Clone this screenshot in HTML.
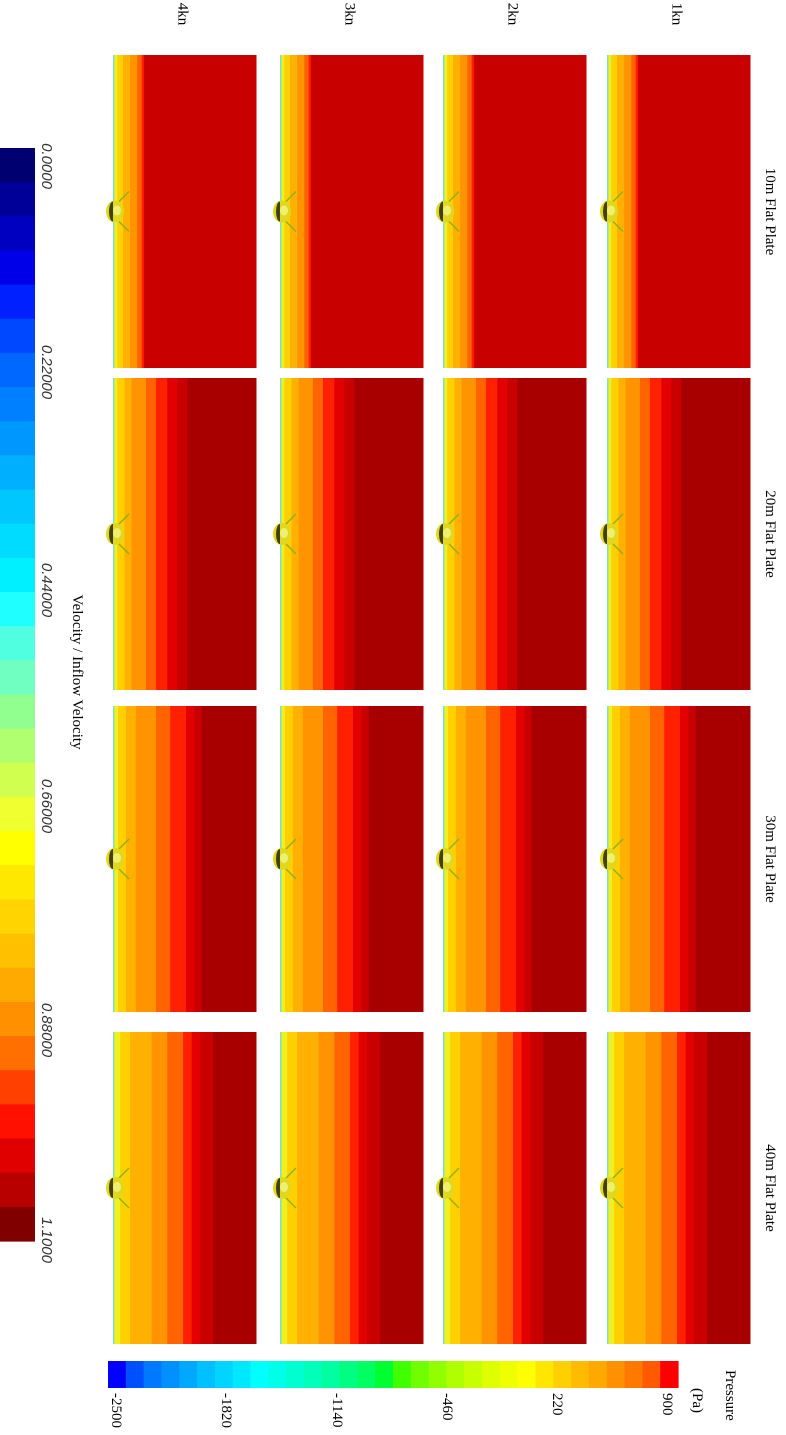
<!DOCTYPE html>
<html><head><meta charset="utf-8">
<style>
html,body{margin:0;padding:0;background:#fff;}
svg{display:block;font-family:"Liberation Serif",serif;}
</style></head>
<body>
<svg id="fig" width="786" height="1435" viewBox="0 0 786 1435" xmlns="http://www.w3.org/2000/svg">
<g id="panels"></g>
<g id="vbar"></g>
<g id="pbar"></g>
<g id="labels"></g>
</svg>
<script>
const NS="http://www.w3.org/2000/svg";
// data arrays
const speeds=["1kn","2kn","3kn","4kn"];
const plates=["10m Flat Plate","20m Flat Plate","30m Flat Plate","40m Flat Plate"];
const bandColors=["#f0f020","#ffd000","#ffb000","#ff9400","#ff6400","#ff2000","#e20000","#c80000","#a80000"];
const bands10=[0.03,0.07,0.12,0.17,0.2,0.215,0.22,1.0,1.0];
const bands20=[0.03,0.08,0.13,0.23,0.30,0.38,0.45,0.52,1.0];
const bands30=[0.035,0.09,0.16,0.30,0.40,0.51,0.57,0.62,1.0];
const bands40=[0.05,0.12,0.27,0.38,0.49,0.55,0.61,0.70,1.0];
const velTicks=["0.0000","0.22000","0.44000","0.66000","0.88000","1.1000"];
const presTicks=["-2500","-1820","-1140","-460","220","900"];
const velColors=["#000070","#000098","#0000c0","#0000e8","#0020ff","#0048ff","#0068ff","#0080ff","#0098ff","#00b0ff","#00c8ff","#00dcff","#00f0ff","#20ffff","#50ffe0","#70ffc0","#90ff90","#b0ff70","#d0ff50","#f0ff30","#ffff00","#ffe800","#ffd400","#ffc000","#ffaa00","#ff9000","#ff7000","#ff4000","#ff1000","#e00000","#b80000","#800000"];
const presColors=["#0000ff","#0050ff","#0078ff","#0090ff","#00a8ff","#00c0ff","#00d4ff","#00e8ff","#00ffff","#00ffe8","#00ffd0","#00ffb8","#00ffa0","#00ff80","#00ff60","#00ff30","#40ff00","#70ff00","#90ff00","#b0ff00","#c8ff00","#ddff00","#f0ff00","#ffff00","#ffe600","#ffd000","#ffbb00","#ffa800","#ff9000","#ff7800","#ff5a00","#ff0000"];

const bandSets=[bands10,bands20,bands30,bands40];
const colX0=[607,443,280,113];
const panelW=143;
const rowY=[[55,368],[378,690],[706,1012],[1032,1344]];

function mk(tag,attrs,parent){const e=document.createElementNS(NS,tag);for(const k in attrs)e.setAttribute(k,attrs[k]);parent.appendChild(e);return e;}
const gP=document.getElementById('panels');
plates.forEach((pl,r)=>{
  speeds.forEach((sp,c)=>{
    const g=mk('g',{},gP);
    
    
    const x0=colX0[c],y0=rowY[r][0],h=rowY[r][1]-rowY[r][0];
    const b=bandSets[r];
    let prev=0;
    for(let i=0;i<b.length;i++){
      const w=(b[i]-prev)*panelW;
      if(w>0){
        const col=(r===0&&i>=7)?"#c80000":bandColors[i];
        const rc=mk('rect',{x:x0+prev*panelW,y:y0,width:w+0.5,height:h,fill:col},g);
        
        
      }
      prev=b[i];
    }
    mk('rect',{x:x0,y:y0,width:1.5,height:h,fill:"#80e0c0"},g);
    const cy=y0+h/2;
    const obj=mk('g',{},g);
    
    
    mk('path',{d:`M${x0+6} ${cy-10} L${x0+16} ${cy-20} M${x0+6} ${cy+10} L${x0+16} ${cy+20}`,stroke:"#90b020","stroke-width":1.5,fill:"none"},obj);
    mk('ellipse',{cx:x0+2,cy:cy,rx:9,ry:11,fill:"#e0d820"},obj);
    mk('ellipse',{cx:x0+4,cy:cy-1,rx:4,ry:5,fill:"#f0f070"},obj);
    mk('path',{d:`M${x0} ${cy-10} A4 10 0 0 0 ${x0} ${cy+10} Z`,fill:"#404010"},obj);
  });
});

const gV=document.getElementById('vbar');
const vTop=148,vBot=1241,vStep=(vBot-vTop)/velColors.length;
velColors.forEach((c,i)=>{
  const r=mk('rect',{x:0,y:vTop+i*vStep,width:35,height:vStep+0.6,fill:c},gV);
  
  
});
const velLabY=[166,372,590,806,1030,1240];
velTicks.forEach((t,i)=>{
  const tx=mk('text',{transform:`translate(42,${velLabY[i]}) rotate(90)`,"text-anchor":"middle","font-size":"15","font-style":"italic","font-family":"Liberation Sans, sans-serif",fill:"#333"},gV);
  tx.textContent=t;
  
  
});
const vt=mk('text',{transform:"translate(73,672) rotate(90)","text-anchor":"middle","font-size":"15",fill:"#000"},gV);
vt.textContent="Velocity / Inflow Velocity";



const gB=document.getElementById('pbar');
const pL=108,pR=678,pStep=(pR-pL)/presColors.length;
presColors.forEach((c,i)=>{
  const r=mk('rect',{x:pL+i*pStep,y:1361,width:pStep+0.6,height:27,fill:c},gB);
  
  
});
const presLabX=[118,228,339,449,559,669];
presTicks.forEach((t,i)=>{
  const tx=mk('text',{transform:`translate(${presLabX[i]-6},1393) rotate(90)`,"font-size":"15",fill:"#000"},gB);
  tx.textContent=t;
  
  
});
const pt1=mk('text',{transform:"translate(726,1370) rotate(90)","font-size":"15",fill:"#000"},gB);
pt1.textContent="Pressure";


const pt2=mk('text',{transform:"translate(693,1388) rotate(90)","font-size":"15",fill:"#000"},gB);
pt2.textContent="(Pa)";



const gL=document.getElementById('labels');
speeds.forEach((s,c)=>{
  const tx=mk('text',{transform:`translate(${colX0[c]+panelW/2-6},14) rotate(90)`,"text-anchor":"middle","font-size":"15",fill:"#000"},gL);
  tx.textContent=s;
  
  
});
plates.forEach((p,r)=>{
  const tx=mk('text',{transform:`translate(766,${(rowY[r][0]+rowY[r][1])/2}) rotate(90)`,"text-anchor":"middle","font-size":"15",fill:"#000"},gL);
  tx.textContent=p;
  
  
});
</script>
</body></html>
